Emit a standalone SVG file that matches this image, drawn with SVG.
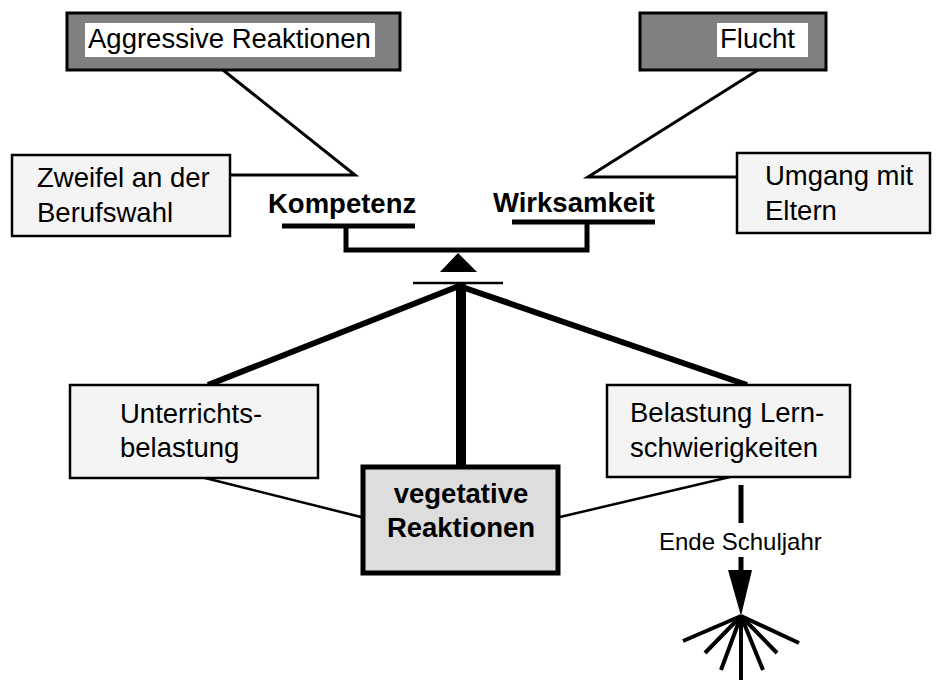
<svg xmlns="http://www.w3.org/2000/svg" width="945" height="680" viewBox="0 0 945 680">
<style>
text{font-family:"Liberation Sans",Arial,sans-serif;font-size:27.5px;fill:#000}
.b{font-weight:bold}
.dark{fill:#808080;stroke:#000;stroke-width:3}
.light{fill:#f4f4f4;stroke:#000;stroke-width:2.5}
.tbg{fill:#fff}
.ln{stroke:#000;fill:none;stroke-linecap:butt}
</style>
<rect width="945" height="680" fill="#fff"/>
<g id="connectors">
<polyline class="ln" stroke-width="3" points="223,70 355,175 230,175"/>
<polyline class="ln" stroke-width="3" points="758,70 588,177 737,177"/>
<line class="ln" stroke-width="5" x1="282" y1="226" x2="415" y2="226"/>
<line class="ln" stroke-width="5" x1="512" y1="222" x2="655" y2="222"/>
<path class="ln" stroke-width="5" d="M346,226 V250 H587 V222"/>
<polygon points="458,253 440,272 477,272" fill="#000"/>
<line class="ln" stroke-width="2.5" x1="413" y1="283" x2="503" y2="283"/>
<line class="ln" stroke-width="6" x1="459" y1="286" x2="208" y2="385"/>
<line class="ln" stroke-width="6" x1="459" y1="286" x2="747" y2="385"/>
<line class="ln" stroke-width="10" x1="461" y1="284" x2="461" y2="466"/>
<line class="ln" stroke-width="2.5" x1="205" y1="478" x2="361" y2="517"/>
<line class="ln" stroke-width="2.5" x1="560" y1="517" x2="730" y2="477"/>
<line class="ln" stroke-width="5" x1="741" y1="485" x2="741" y2="523"/>
<line class="ln" stroke-width="5" x1="741" y1="557" x2="741" y2="575"/>
<polygon points="728,570 752,570 741,616" fill="#000"/>
<text x="659" y="550" style="font-size:24px">Ende Schuljahr</text>
<g class="ln" stroke-width="4">
<line x1="741" y1="616" x2="683" y2="641"/>
<line x1="741" y1="616" x2="705" y2="653"/>
<line x1="741" y1="616" x2="721" y2="670"/>
<line x1="741" y1="616" x2="741" y2="680"/>
<line x1="741" y1="616" x2="763" y2="670"/>
<line x1="741" y1="616" x2="777" y2="653"/>
<line x1="741" y1="616" x2="799" y2="643"/>
</g>
</g>
<g id="aggressive">
<rect class="dark" x="67" y="13" width="333" height="57"/>
<rect class="tbg" x="85" y="23" width="290" height="34"/>
<text x="88" y="48">Aggressive Reaktionen</text>
</g>
<g id="flucht">
<rect class="dark" x="640" y="13" width="186" height="57"/>
<rect class="tbg" x="717" y="23" width="91" height="34"/>
<text x="720" y="48">Flucht</text>
</g>
<g id="zweifel">
<rect class="light" x="12" y="155" width="218" height="81"/>
<text x="37" y="187">Zweifel an der</text>
<text x="37" y="222">Berufswahl</text>
</g>
<g id="umgang">
<rect class="light" x="737" y="153" width="193" height="80"/>
<text x="765" y="185">Umgang mit</text>
<text x="765" y="220">Eltern</text>
</g>
<g id="kompetenz">
<text class="b" x="268" y="213">Kompetenz</text>
</g>
<g id="wirksamkeit">
<text class="b" x="493" y="212">Wirksamkeit</text>
</g>
<g id="unterricht">
<rect class="light" x="70" y="385" width="248" height="93"/>
<text x="120" y="423">Unterrichts-</text>
<text x="120" y="457">belastung</text>
</g>
<g id="lern">
<rect class="light" x="607" y="385" width="243" height="92"/>
<text x="630" y="422">Belastung Lern-</text>
<text x="630" y="457">schwierigkeiten</text>
</g>
<g id="vegetativ">
<rect x="363" y="467" width="195" height="106" fill="#dddddd" stroke="#000" stroke-width="5"/>
<text class="b" x="461" y="503" text-anchor="middle">vegetative</text>
<text class="b" x="461" y="537" text-anchor="middle">Reaktionen</text>
</g>
</svg>
